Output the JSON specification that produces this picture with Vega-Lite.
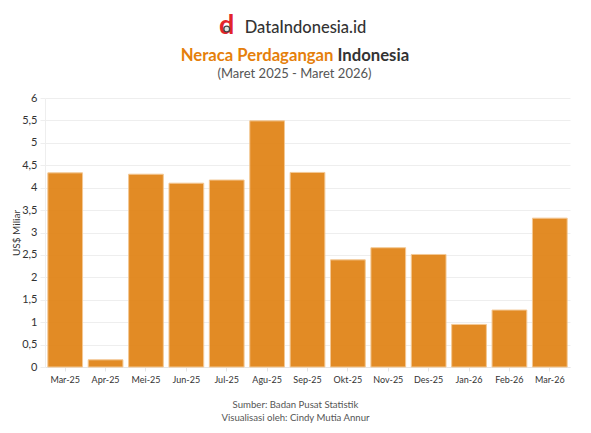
{
  "$schema": "https://vega.github.io/schema/vega-lite/v6.json",
  "width": 525,
  "height": 269,
  "autosize": "none",
  "padding": {"left": 45, "top": 98, "right": 21, "bottom": 66},
  "background": "white",
  "config": {"view": {"stroke": null}, "font": "Lato"},
  "datasets": {
    "neraca": [
      {"bulan": "Mar-25", "nilai": 4.33},
      {"bulan": "Apr-25", "nilai": 0.16},
      {"bulan": "Mei-25", "nilai": 4.3},
      {"bulan": "Jun-25", "nilai": 4.1},
      {"bulan": "Jul-25", "nilai": 4.17},
      {"bulan": "Agu-25", "nilai": 5.49},
      {"bulan": "Sep-25", "nilai": 4.34},
      {"bulan": "Okt-25", "nilai": 2.39},
      {"bulan": "Nov-25", "nilai": 2.66},
      {"bulan": "Des-25", "nilai": 2.51},
      {"bulan": "Jan-26", "nilai": 0.95},
      {"bulan": "Feb-26", "nilai": 1.27},
      {"bulan": "Mar-26", "nilai": 3.32}
    ]
  },
  "encoding": {
    "x": {
      "field": "bulan",
      "type": "nominal",
      "scale": {
        "domain": ["Mar-25", "Apr-25", "Mei-25", "Jun-25", "Jul-25", "Agu-25", "Sep-25", "Okt-25", "Nov-25", "Des-25", "Jan-26", "Feb-26", "Mar-26"],
        "paddingInner": 0.14,
        "paddingOuter": 0.07
      },
      "axis": {
        "title": ["Sumber: Badan Pusat Statistik", "Visualisasi oleh: Cindy Mutia Annur"],
        "titleFontSize": 9.6,
        "titleFontWeight": "normal",
        "titleColor": "#555555",
        "titlePadding": 15,
        "titleLineHeight": 13,
        "titleX": 250,
        "labelAngle": 0,
        "labelFontSize": 9,
        "labelColor": "#333333",
        "labelPadding": 4,
        "tickColor": "#e6e6e6",
        "tickSize": 4,
        "domainColor": "#e6e6e6"
      }
    },
    "y": {
      "field": "nilai",
      "type": "quantitative",
      "scale": {"domain": [0, 6], "nice": false},
      "axis": {
        "title": "US$ Miliar",
        "titleFontSize": 10,
        "titleFontWeight": "normal",
        "titleColor": "#333333",
        "titlePadding": 0,
        "values": [0, 0.5, 1, 1.5, 2, 2.5, 3, 3.5, 4, 4.5, 5, 5.5, 6],
        "labelExpr": "replace(format(datum.value, '.1~f'), '.', ',')",
        "labelFontSize": 11,
        "labelColor": "#333333",
        "labelPadding": 3,
        "tickColor": "#eeeeee",
        "tickSize": 5,
        "gridColor": "#eeeeee",
        "domain": true,
        "domainColor": "#eeeeee"
      }
    }
  },
  "layer": [
    {
      "data": {"name": "neraca"},
      "mark": {"type": "bar", "color": "#E08213", "opacity": 0.92, "stroke": "#F3C48C", "strokeWidth": 1}
    },
    {
      "data": {"values": [{"bulan": "Jul-25", "nilai": 7.58, "teks": "d"}]},
      "mark": {"type": "text", "fontSize": 27, "fontWeight": "bold", "color": "#E3242B", "dy": -1},
      "encoding": {"text": {"field": "teks"}}
    },
    {
      "data": {"values": [{"bulan": "Jul-25", "nilai": 7.54}]},
      "mark": {"type": "point", "shape": "circle", "size": 34, "filled": true, "color": "#DDE8E4", "stroke": "#444444", "strokeWidth": 1.3, "opacity": 1}
    },
    {
      "data": {"values": [{"bulan": "Jul-25", "nilai": 7.56, "teks": "DataIndonesia.id"}]},
      "mark": {"type": "text", "align": "left", "dx": 18, "fontSize": 16.5, "fontWeight": 500, "color": "#333333"},
      "encoding": {"text": {"field": "teks"}}
    },
    {
      "data": {"values": [{"bulan": "Sep-25", "nilai": 6.93, "teks": "Neraca Perdagangan"}]},
      "mark": {"type": "text", "align": "right", "dx": 26, "fontSize": 16.7, "fontWeight": "bold", "color": "#E57F0B"},
      "encoding": {"text": {"field": "teks"}}
    },
    {
      "data": {"values": [{"bulan": "Sep-25", "nilai": 6.93, "teks": "Indonesia"}]},
      "mark": {"type": "text", "align": "left", "dx": 30, "fontSize": 16.7, "fontWeight": "bold", "color": "#333333"},
      "encoding": {"text": {"field": "teks"}}
    },
    {
      "data": {"values": [{"bulan": "Sep-25", "nilai": 6.54, "teks": "(Maret 2025 - Maret 2026)"}]},
      "mark": {"type": "text", "dx": -13, "fontSize": 13, "color": "#555555"},
      "encoding": {"text": {"field": "teks"}}
    }
  ]
}
